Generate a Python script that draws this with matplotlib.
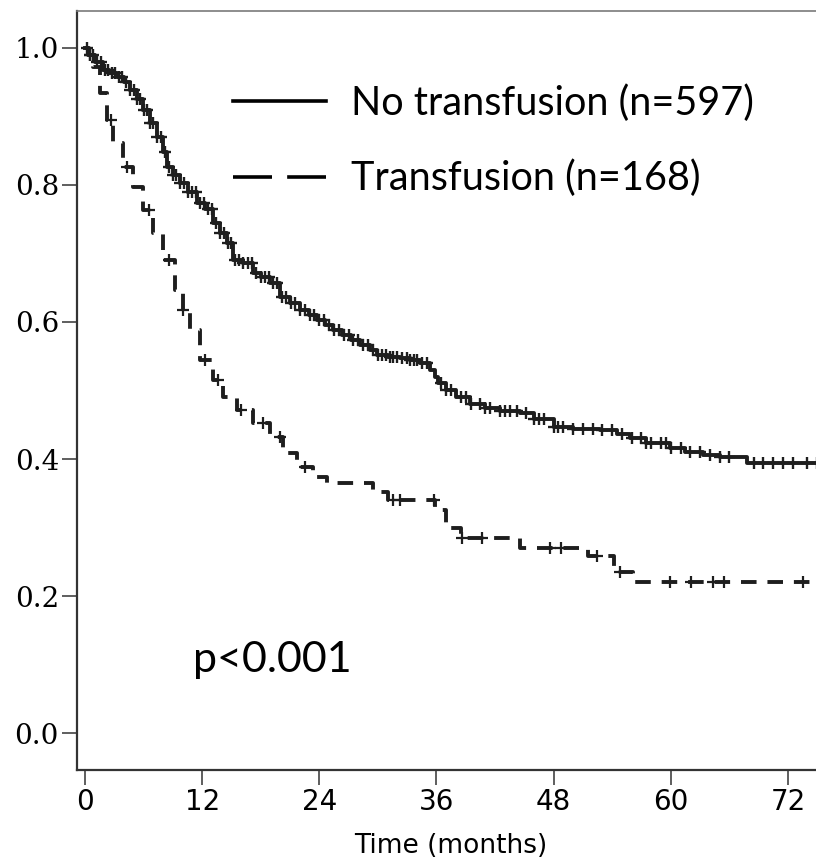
import numpy as np
import matplotlib
matplotlib.use('Agg')
from matplotlib import pyplot as plt
from matplotlib.lines import Line2D

# Kaplan-Meier step curves (months, survival)
no_tf_time = [0, 0.3, 1, 1.8, 2.5, 3.3, 4, 4.6, 5.3, 5.9, 6.7, 7.4, 8, 8.4, 9, 9.7,
              10.5, 11.5, 12.3, 13.1, 13.8, 14.5, 15.2, 16.2, 17.2, 18, 19, 20, 21, 22,
              22.9, 23.8, 24.6, 25.4, 26.3, 27.2, 28.2, 29.2, 29.9, 31, 32.3, 33.3, 34.3,
              35.3, 35.8, 36.2, 37, 38, 39.4, 41, 42.5, 44.6, 46, 48, 50, 52.8, 54.5,
              55.8, 57.5, 59.9, 61.5, 63.3, 65, 67.8, 76]
no_tf_surv = [1.0, 0.99, 0.98, 0.968, 0.963, 0.958, 0.95, 0.939, 0.925, 0.909, 0.89,
              0.87, 0.848, 0.826, 0.815, 0.803, 0.79, 0.774, 0.765, 0.745, 0.73, 0.715,
              0.69, 0.686, 0.672, 0.665, 0.657, 0.637, 0.628, 0.618, 0.61, 0.603, 0.595,
              0.588, 0.581, 0.574, 0.566, 0.559, 0.552, 0.549, 0.547, 0.544, 0.54, 0.53,
              0.52, 0.511, 0.50, 0.49, 0.48, 0.475, 0.47, 0.467, 0.458, 0.447, 0.444,
              0.442, 0.436, 0.43, 0.423, 0.416, 0.41, 0.406, 0.403, 0.394, 0.394]

tf_time = [0, 0.4, 0.8, 1.5, 2.3, 2.9, 3.9, 4.9, 5.9, 7, 8, 9.2, 10, 10.8, 11.8, 13.1,
           14.1, 15.6, 17.2, 19, 20.3, 21.7, 23.4, 24.8, 29.5, 31, 35.8, 37, 38.5, 44.6,
           51.5, 54.2, 56.1, 76]
tf_surv = [1.0, 0.99, 0.972, 0.934, 0.895, 0.861, 0.826, 0.797, 0.763, 0.73, 0.69,
           0.647, 0.618, 0.588, 0.545, 0.515, 0.49, 0.472, 0.453, 0.432, 0.409, 0.388,
           0.374, 0.365, 0.352, 0.34, 0.326, 0.30, 0.285, 0.27, 0.258, 0.235, 0.22, 0.22]

# censoring times
no_tf_cens = [0.2, 0.5, 0.8, 1.2, 1.6, 2, 2.4, 2.8, 3.1, 3.5, 3.8, 4.2, 4.6, 5, 5.3, 5.6,
              6, 6.3, 6.7, 7, 7.4, 7.8, 8.2, 8.6, 9, 9.3, 9.7, 10.1, 10.5, 11, 11.4, 11.8,
              12.2, 12.6, 13, 13.4, 13.8, 14.2, 14.6, 15, 15.4, 15.8, 16.2, 16.7, 17.1,
              17.5, 18, 18.4, 18.8, 19.3, 19.7, 20.2, 20.6, 21.1, 21.5, 22, 22.5, 23,
              23.5, 24, 24.5, 25, 25.5, 26, 26.5, 27, 27.5, 28, 28.5, 29, 29.5, 30, 30.4,
              30.8, 31.2, 31.6, 32, 32.5, 33, 33.3, 33.7, 34, 34.5, 35, 36.5, 37, 37.5,
              38.5, 39, 39.5, 40.5, 41, 41.5, 42.5, 43, 43.5, 44.3, 45.2, 46, 46.5, 47,
              48, 48.5, 49, 50, 51, 52, 53, 54, 55, 56, 57, 57.5, 58, 59, 59.5, 60, 61,
              62, 63, 64, 65, 66, 68.5, 69.5, 70.5, 71.5, 72.5, 74, 75]
tf_cens = [0.5, 2.7, 4.3, 6.6, 8.6, 10, 12.3, 13.6, 16, 18.2, 20, 22.5, 31.6, 32.3,
           35.7, 38.6, 40.7, 47.6, 48.8, 52.4, 54.8, 59.9, 62.1, 64.3, 65.5, 73.5]

labels = ['No transfusion (n=597)', 'Transfusion (n=168)']
xticks = [0, 12, 24, 36, 48, 60, 72]
yticks = [0.0, 0.2, 0.4, 0.6, 0.8, 1.0]


def surv_at(times, surv, c):
    idx = np.searchsorted(times, c, side='right') - 1
    return np.asarray(surv)[idx]


col = '#1e1e1e'
fig = plt.figure(figsize=(8.16, 8.63), dpi=100)
ax = fig.add_axes([77 / 816, 93 / 863, 748 / 816, 759 / 863])

ax.plot(no_tf_time, no_tf_surv, drawstyle='steps-post', color=col, lw=2.8)
ax.plot(no_tf_cens, surv_at(no_tf_time, no_tf_surv, no_tf_cens), ls='none',
        marker='+', ms=9, mew=1.7, color=col)
ax.plot(tf_time, tf_surv, drawstyle='steps-post', color=col, lw=2.8, dashes=(4.0, 2.8))
ax.plot(tf_cens, surv_at(tf_time, tf_surv, tf_cens), ls='none',
        marker='+', ms=9, mew=1.6, color=col)

ax.set_xlim(-0.82, 75.8)
ax.set_ylim(-0.054, 1.054)
ax.set_xticks(xticks)
ax.set_xticklabels([str(v) for v in xticks], family='DejaVu Sans', fontsize=20)
ax.set_yticks(yticks)
ax.set_yticklabels(['%.1f' % v for v in yticks], family='DejaVu Serif', fontsize=20)
ax.tick_params(direction='out', length=11, width=1.1, color='#333333', pad=2)

for s in ['left', 'bottom']:
    ax.spines[s].set_linewidth(1.6)
    ax.spines[s].set_color('#333333')
ax.spines['top'].set_linewidth(1.2)
ax.spines['top'].set_color('#7a7a7a')

ax.set_xlabel('Time (months)', family='DejaVu Sans', fontsize=19, labelpad=12)

handles = [Line2D([], [], color='black', lw=2.6),
           Line2D([], [], color='black', lw=2.6, dashes=(10.8, 4.2))]
ax.legend(handles, labels, loc='upper left', bbox_to_anchor=(0.208, 0.903),
          frameon=False, prop={'family': 'Lato', 'size': 28.5}, handlelength=2.37,
          handletextpad=0.63, labelspacing=0.95, borderpad=0, borderaxespad=0)

ax.text(0.155, 0.145, 'p<0.001', transform=ax.transAxes, family='Lato',
        fontsize=31, va='center', ha='left')

fig.savefig('out.png', dpi=100)
